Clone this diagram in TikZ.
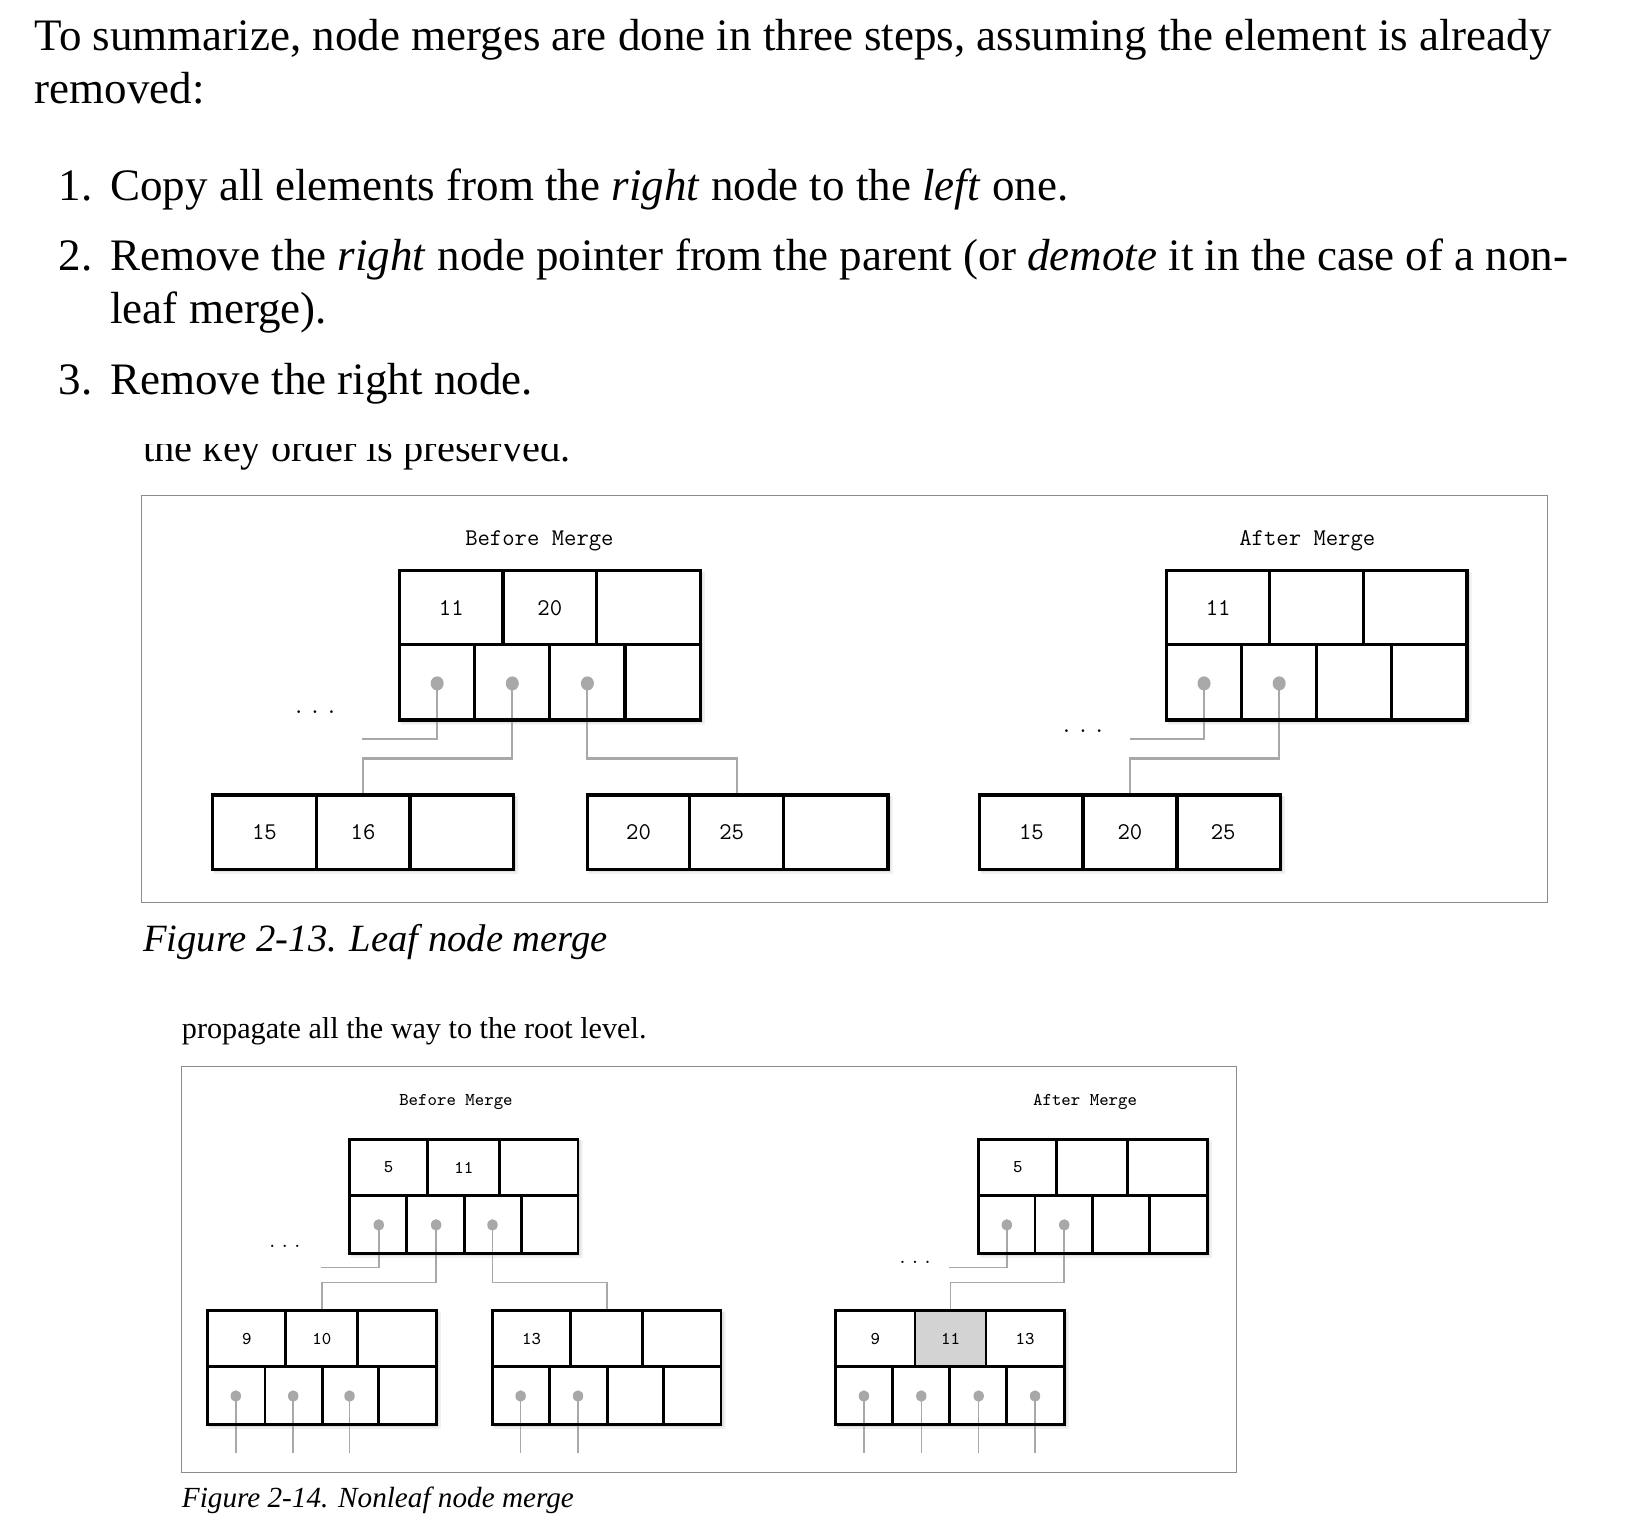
\documentclass[tikz,border=0pt]{standalone}
\usepackage{fontspec}
\setmainfont{Liberation Serif}
\usetikzlibrary{calc,shapes.geometric}
\pgfdeclarelayer{bg}
\pgfdeclarelayer{shad}
\pgfdeclarelayer{conn}
\pgfsetlayers{bg,shad,conn,main}
\def\u{0.5217pt}
\definecolor{dotgray}{HTML}{A8A8A8}
\definecolor{framegray}{HTML}{8C8C8C}
\definecolor{hlgray}{HTML}{D3D3D3}
\tikzset{
  body/.style={anchor=base west, inner sep=0pt, font=\fontsize{22.5}{26}\selectfont},
  cellA/.style={draw, line width=1.6pt, inner sep=0pt, font=\fontsize{12}{12}\ttfamily},
  cellB/.style={draw, line width=1.45pt, inner sep=0pt, font=\fontsize{9}{9}\ttfamily},
  dotA/.style={ellipse, fill=dotgray, inner sep=0pt, minimum width=12.5*\u, minimum height=13.5*\u},
  dotB/.style={ellipse, fill=dotgray, inner sep=0pt, minimum width=10*\u, minimum height=11*\u},
  connA/.style={draw=dotgray, line width=1.05pt},
  connB/.style={draw=dotgray, line width=0.8pt},
  frame/.style={draw=framegray, line width=0.6pt},
  ttA/.style={font=\fontsize{12}{12}\ttfamily, inner sep=0pt},
  ttB/.style={font=\fontsize{9}{9}\ttfamily, inner sep=0pt},
}
% #1 style, #2 name, #3 xl, #4 xr, #5 yt, #6 yb, #7 text
\newcommand\mkcell[7][]{\node[#1, minimum width={(#4-#3)*\u}, minimum height={(#6-#5)*\u}] (#2) at ({(#3+#4)/2},{(#5+#6)/2}) {#7};}
\newcommand\mkshadow[4]{\begin{pgfonlayer}{shad}
  \fill[black, opacity=0.06, even odd rule] (#1+1,#2+1) rectangle (#3+4.5,#4+4.5) (#1,#2) rectangle (#3,#4);
  \fill[black, opacity=0.08, even odd rule] (#1+1,#2+1) rectangle (#3+2.5,#4+2.5) (#1,#2) rectangle (#3,#4);
\end{pgfonlayer}}
\begin{document}
\begin{tikzpicture}[x=\u, y=-\u]
\useasboundingbox (0,0) rectangle (1568,1465);
\begin{pgfonlayer}{bg}
\fill[white] (0,0) rectangle (1568,1465);
\end{pgfonlayer}

% ---------------- body text ----------------
\node[body] (t1) at (33,48.5) {To summarize, node merges are done in three steps, assuming the element is already};
\node[body] (t2) at (33,99) {removed:};
\node[body] (n1) at (56,192) {1.};
\node[body] (i1) at (105.5,192) {Copy all elements from the \textit{right} node to the \textit{left} one.};
\node[body] (n2) at (56,259) {2.};
\node[body] (i2) at (105.5,259) {Remove the \textit{right} node pointer from the parent (or \textit{demote} it in the case of a non-};
\node[body] (i2b) at (105.5,310.5) {leaf merge).};
\node[body] (n3) at (56,378) {3.};
\node[body] (i3) at (105.5,378) {Remove the right node.};
\begin{scope}
  \clip (0,426) rectangle (1568,462);
  \node[anchor=base west, inner sep=0pt, font=\fontsize{20.2}{24}\selectfont] (cut) at (137,442) {the key order is preserved.};
\end{scope}

% ---------------- Figure 2-13 ----------------
\draw[frame] (136,475) rectangle (1483,865);
\node[ttA] (hb1) at (517,518) {Before Merge};
\node[ttA] (ha1) at (1253,518) {After Merge};

% before: top node
\mkshadow{383}{547}{671}{690}
\mkcell[cellA]{bk1}{383}{482}{547}{618}{11}
\mkcell[cellA]{bk2}{482}{572}{547}{618}{20}
\mkcell[cellA]{bk3}{572}{671}{547}{618}{}
\mkcell[cellA]{bp1}{383}{455}{618}{690}{}
\mkcell[cellA]{bp2}{455}{527}{618}{690}{}
\mkcell[cellA]{bp3}{527}{599}{618}{690}{}
\mkcell[cellA]{bp4}{599}{671}{618}{690}{}
\node[dotA] (bd1) at (419,655) {};
\node[dotA] (bd2) at (491,655) {};
\node[dotA] (bd3) at (563,655) {};
% before: leaves
\mkshadow{204}{762}{492}{833}
\mkcell[cellA]{la1}{204}{303}{762}{833}{15}
\mkcell[cellA]{la2}{303}{393}{762}{833}{16}
\mkcell[cellA]{la3}{393}{492}{762}{833}{}
\mkshadow{563}{762}{851}{833}
\mkcell[cellA]{lb1}{563}{661}{762}{833}{20}
\mkcell[cellA]{lb2}{661}{751}{762}{833}{25\hspace*{5pt}}
\mkcell[cellA]{lb3}{751}{851}{762}{833}{}
\node[ttA] (dots1) at (302,683) {.\,.\,.};
\coordinate (be1) at (347,708);
\coordinate (bm1) at (0,727);
\begin{pgfonlayer}{conn}
\draw[connA] (bd1.center) |- (be1);
\draw[connA] (bd2.center) -- (bd2 |- bm1) -| (la2.north);
\draw[connA] (bd3.center) -- (bd3 |- bm1) -| (lb2.north);
\end{pgfonlayer}

% after: top node
\mkshadow{1118}{547}{1406}{690}
\mkcell[cellA]{ak1}{1118}{1217}{547}{618}{11}
\mkcell[cellA]{ak2}{1217}{1307}{547}{618}{}
\mkcell[cellA]{ak3}{1307}{1406}{547}{618}{}
\mkcell[cellA]{ap1}{1118}{1190}{618}{690}{}
\mkcell[cellA]{ap2}{1190}{1262}{618}{690}{}
\mkcell[cellA]{ap3}{1262}{1334}{618}{690}{}
\mkcell[cellA]{ap4}{1334}{1406}{618}{690}{}
\node[dotA] (ad1) at (1154,655) {};
\node[dotA] (ad2) at (1226,655) {};
\mkshadow{939}{762}{1227}{833}
\mkcell[cellA]{lc1}{939}{1038}{762}{833}{15}
\mkcell[cellA]{lc2}{1038}{1128}{762}{833}{20}
\mkcell[cellA]{lc3}{1128}{1227}{762}{833}{25\hspace*{5.4pt}}
\node[ttA] (dots2) at (1038,701) {.\,.\,.};
\coordinate (ae1) at (1083,708);
\coordinate (am1) at (0,727);
\begin{pgfonlayer}{conn}
\draw[connA] (ad1.center) |- (ae1);
\draw[connA] (ad2.center) -- (ad2 |- am1) -| (lc2.north);
\end{pgfonlayer}

\node[anchor=base west, inner sep=0pt, font=\fontsize{19.3}{24}\selectfont\itshape] (cap1) at (137,912) {Figure 2-13. Leaf node merge};

% ---------------- Figure 2-14 ----------------
\node[anchor=base west, inner sep=0pt, font=\fontsize{15.1}{18}\selectfont] (prop) at (174,995) {propagate all the way to the root level.};
\draw[frame] (174,1022) rectangle (1185,1411);
\node[ttB] (hb2) at (437,1056) {Before Merge};
\node[ttB] (ha2) at (1040,1056) {After Merge};

% before: top
\mkshadow{335}{1092}{554}{1201}
\mkcell[cellB]{ck1}{335}{410}{1092}{1146}{5}
\mkcell[cellB]{ck2}{410}{479}{1092}{1146}{11}
\mkcell[cellB]{ck3}{479}{554}{1092}{1146}{}
\mkcell[cellB]{cp1}{335}{390}{1146}{1201}{}
\mkcell[cellB]{cp2}{390}{445}{1146}{1201}{}
\mkcell[cellB]{cp3}{445}{500}{1146}{1201}{}
\mkcell[cellB]{cp4}{500}{554}{1146}{1201}{}
\node[dotB] (cd1) at (363,1174) {};
\node[dotB] (cd2) at (418,1174) {};
\node[dotB] (cd3) at (472,1174) {};
% before: leaf 1
\mkshadow{199}{1256}{418}{1365}
\mkcell[cellB]{dk1}{199}{274}{1256}{1310}{9}
\mkcell[cellB]{dk2}{274}{343}{1256}{1310}{10}
\mkcell[cellB]{dk3}{343}{418}{1256}{1310}{}
\mkcell[cellB]{dp1}{199}{254}{1310}{1365}{}
\mkcell[cellB]{dp2}{254}{309}{1310}{1365}{}
\mkcell[cellB]{dp3}{309}{363}{1310}{1365}{}
\mkcell[cellB]{dp4}{363}{418}{1310}{1365}{}
\node[dotB] (dd1) at (226,1338) {};
\node[dotB] (dd2) at (281,1338) {};
\node[dotB] (dd3) at (335,1338) {};
% before: leaf 2
\mkshadow{472}{1256}{691}{1365}
\mkcell[cellB]{ek1}{472}{547}{1256}{1310}{13}
\mkcell[cellB]{ek2}{547}{616}{1256}{1310}{}
\mkcell[cellB]{ek3}{616}{691}{1256}{1310}{}
\mkcell[cellB]{ep1}{472}{527}{1310}{1365}{}
\mkcell[cellB]{ep2}{527}{582}{1310}{1365}{}
\mkcell[cellB]{ep3}{582}{636}{1310}{1365}{}
\mkcell[cellB]{ep4}{636}{691}{1310}{1365}{}
\node[dotB] (ed1) at (499,1338) {};
\node[dotB] (ed2) at (554,1338) {};
\node[ttB] (dots3) at (273,1195) {.\,.\,.};
\coordinate (ce1) at (308,1215);
\coordinate (cm1) at (0,1229);
\coordinate (bot) at (0,1393);
\begin{pgfonlayer}{conn}
\draw[connB] (cd1.center) |- (ce1);
\draw[connB] (cd2.center) -- (cd2 |- cm1) -| (dk2.north);
\draw[connB] (cd3.center) -- (cd3 |- cm1) -| (ek2.north);
\foreach \d in {dd1,dd2,dd3,ed1,ed2} \draw[connB] (\d.center) -- (\d |- bot);
\end{pgfonlayer}

% after: top
\mkshadow{938}{1092}{1157}{1201}
\mkcell[cellB]{fk1}{938}{1013}{1092}{1146}{5}
\mkcell[cellB]{fk2}{1013}{1081}{1092}{1146}{}
\mkcell[cellB]{fk3}{1081}{1157}{1092}{1146}{}
\mkcell[cellB]{fp1}{938}{992}{1146}{1201}{}
\mkcell[cellB]{fp2}{992}{1047}{1146}{1201}{}
\mkcell[cellB]{fp3}{1047}{1102}{1146}{1201}{}
\mkcell[cellB]{fp4}{1102}{1157}{1146}{1201}{}
\node[dotB] (fd1) at (965,1174) {};
\node[dotB] (fd2) at (1020,1174) {};
% after: merged leaf
\mkshadow{801}{1256}{1020}{1365}
\mkcell[cellB]{gk1}{801}{877}{1256}{1310}{9}
\mkcell[cellB,fill=hlgray]{gk2}{877}{945}{1256}{1310}{11}
\mkcell[cellB]{gk3}{945}{1020}{1256}{1310}{13}
\mkcell[cellB]{gp1}{801}{855}{1310}{1365}{}
\mkcell[cellB]{gp2}{855}{910}{1310}{1365}{}
\mkcell[cellB]{gp3}{910}{965}{1310}{1365}{}
\mkcell[cellB]{gp4}{965}{1020}{1310}{1365}{}
\node[dotB] (gd1) at (828,1338) {};
\node[dotB] (gd2) at (883,1338) {};
\node[dotB] (gd3) at (938,1338) {};
\node[dotB] (gd4) at (992,1338) {};
\node[ttB] (dots4) at (877,1210) {.\,.\,.};
\coordinate (fe1) at (910,1215);
\coordinate (fm1) at (0,1229);
\begin{pgfonlayer}{conn}
\draw[connB] (fd1.center) |- (fe1);
\draw[connB] (fd2.center) -- (fd2 |- fm1) -| (gk2.north);
\foreach \d in {gd1,gd2,gd3,gd4} \draw[connB] (\d.center) -- (\d |- bot);
\end{pgfonlayer}

\node[anchor=base west, inner sep=0pt, font=\fontsize{14.6}{18}\selectfont\itshape] (cap2) at (174,1445) {Figure 2-14. Nonleaf node merge};
\end{tikzpicture}
\end{document}
